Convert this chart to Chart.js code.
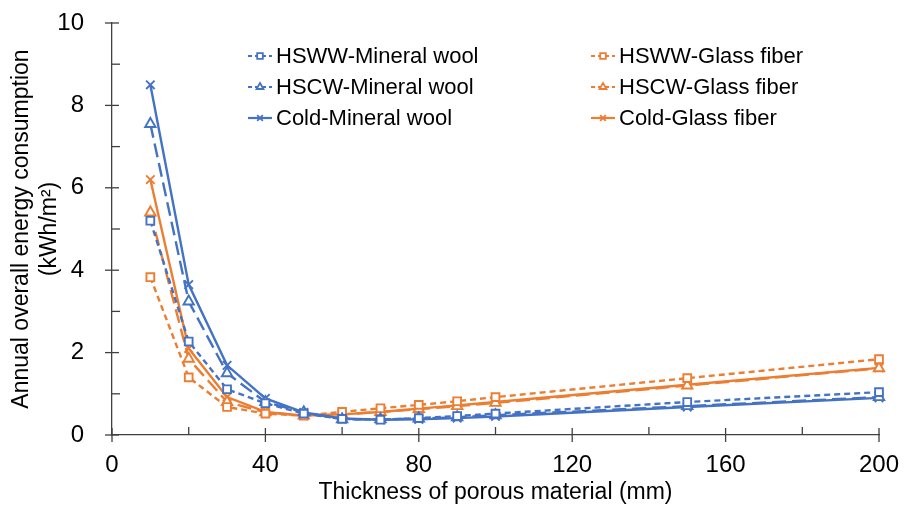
<!DOCTYPE html>
<html>
<head>
<meta charset="utf-8">
<script src="https://cdn.jsdelivr.net/npm/chart.js@4/dist/chart.umd.min.js"></script>
<style>
  html, body { margin: 0; padding: 0; background: #fff; }
  #wrap { width: 904px; height: 510px; position: relative; }
</style>
</head>
<body>
<div id="wrap"><canvas id="grafico"></canvas></div>
<script>
const espessura = [10, 20, 30, 40, 50, 60, 70, 80, 90, 100, 150, 200];

const hswwMineral = [5.2, 2.27, 1.11, 0.77, 0.52, 0.39, 0.37, 0.41, 0.46, 0.52, 0.80, 1.04];
const hscwMineral = [7.55, 3.24, 1.50, 0.80, 0.55, 0.38, 0.38, 0.40, 0.43, 0.48, 0.70, 0.92];
const coldMineral = [8.5, 3.65, 1.69, 0.89, 0.55, 0.40, 0.37, 0.38, 0.41, 0.45, 0.68, 0.90];
const hswwGlass = [3.83, 1.40, 0.68, 0.52, 0.47, 0.56, 0.65, 0.73, 0.82, 0.92, 1.38, 1.84];
const hscwGlass = [5.4, 1.85, 0.80, 0.55, 0.47, 0.50, 0.56, 0.63, 0.70, 0.78, 1.20, 1.62];
const coldGlass = [6.2, 2.10, 0.92, 0.56, 0.47, 0.50, 0.56, 0.64, 0.72, 0.80, 1.22, 1.63];

const xTicks = [0, 40, 80, 120, 160, 200];
const yTicks = [0, 2, 4, 6, 8, 10];

const azul = '#4472C4';
const laranja = '#ED7D31';

function serie(label, valores, cor, dash, estilo, raio) {
  return {
    label: label,
    data: espessura.map((x, i) => ({ x: x, y: valores[i] })),
    borderColor: cor,
    borderWidth: 2.4,
    borderDash: dash,
    pointStyle: estilo,
    pointRadius: raio,
    pointBorderWidth: 1.9,
    pointBorderColor: cor,
    pointBackgroundColor: '#fff',
    fill: false,
    tension: 0,
    clip: false
  };
}

const datasets = [
  serie('HSWW-Mineral wool', hswwMineral, azul, [6, 4], 'rect', 5.5),
  serie('HSCW-Mineral wool', hscwMineral, azul, [14, 6], 'triangle', 6),
  serie('Cold-Mineral wool', coldMineral, azul, [], 'crossRot', 6),
  serie('HSWW-Glass fiber', hswwGlass, laranja, [6, 4], 'rect', 5.5),
  serie('HSCW-Glass fiber', hscwGlass, laranja, [14, 6], 'triangle', 6),
  serie('Cold-Glass fiber', coldGlass, laranja, [], 'crossRot', 6)
];

// tick marks: major ones cross the axis, minor ones sit inside
const marcas = {
  id: 'marcas',
  afterDraw(chart) {
    const ctx = chart.ctx;
    const xs = chart.scales.x, ys = chart.scales.y;
    const a = chart.chartArea;
    ctx.save();
    ctx.strokeStyle = '#404040';
    ctx.lineWidth = 1.3;
    for (let v = 0; v <= 200; v += 20) {
      const px = xs.getPixelForValue(v);
      const major = v % 40 === 0;
      ctx.beginPath();
      ctx.moveTo(px, a.bottom - (major ? 7 : 8));
      ctx.lineTo(px, a.bottom + (major ? 7 : 0));
      ctx.stroke();
    }
    for (let v = 0; v <= 10; v += 1) {
      const py = ys.getPixelForValue(v);
      const major = v % 2 === 0;
      ctx.beginPath();
      ctx.moveTo(a.left - (major ? 7 : 0), py);
      ctx.lineTo(a.left + (major ? 7 : 8), py);
      ctx.stroke();
    }
    ctx.restore();
  }
};

// legend inside the plot, two columns
const legenda = {
  id: 'legenda',
  afterDraw(chart) {
    const ctx = chart.ctx;
    const cols = [248, 591];
    const rows = [56, 87, 118];
    ctx.save();
    chart.data.datasets.forEach((ds, i) => {
      const x0 = cols[Math.floor(i / 3)];
      const y = rows[i % 3];
      ctx.strokeStyle = ds.borderColor;
      ctx.lineWidth = 2.2;
      ctx.setLineDash(ds.borderDash.length ? [4, 3] : []);
      ctx.beginPath();
      ctx.moveTo(x0, y);
      ctx.lineTo(x0 + 24, y);
      ctx.stroke();
      ctx.setLineDash([]);
      ctx.fillStyle = '#fff';
      ctx.lineWidth = 1.8;
      Chart.helpers.drawPoint(ctx, {
        pointStyle: ds.pointStyle, radius: 4, rotation: 0, borderWidth: 1.8
      }, x0 + 12, y);
      ctx.fillStyle = '#000';
      ctx.font = '22px "Liberation Sans", Arial, sans-serif';
      ctx.textBaseline = 'middle';
      ctx.textAlign = 'left';
      ctx.fillText(ds.label, x0 + 28, y + 1);
    });
    ctx.restore();
  }
};

const familia = '"Liberation Sans", Arial, sans-serif';
const fonteTicks = { family: familia, size: 24 };
const fonteTitulo = { family: familia, size: 23, lineHeight: 1.2 };

new Chart(document.getElementById('grafico'), {
  type: 'line',
  data: { datasets: datasets },
  options: {
    responsive: true,
    maintainAspectRatio: false,
    animation: false,
    layout: { padding: { left: 4, top: 23, right: 25, bottom: 0 } },
    plugins: { legend: { display: false }, tooltip: { enabled: false } },
    scales: {
      x: {
        type: 'linear', min: 0, max: 200,
        afterFit: s => { s.height = 75; s.paddingLeft = 0; s.paddingRight = 0; },
        afterBuildTicks: s => { s.ticks = xTicks.map(v => ({ value: v })); },
        grid: { display: false },
        border: { display: true, color: '#404040', width: 1.3 },
        ticks: { font: fonteTicks, color: '#000', padding: 8, maxRotation: 0 },
        title: { display: true, text: 'Thickness of porous material (mm)', font: fonteTitulo, color: '#000', padding: { top: 7 } }
      },
      y: {
        min: 0, max: 10,
        afterFit: s => { s.width = 108; s.paddingTop = 0; s.paddingBottom = 0; },
        afterBuildTicks: s => { s.ticks = yTicks.map(v => ({ value: v })); },
        grid: { display: false },
        border: { display: true, color: '#404040', width: 1.3 },
        ticks: { font: fonteTicks, color: '#000', padding: 20 },
        title: {
          display: true,
          text: ['Annual overall energy consumption', '(kWh/m²)'],
          font: fonteTitulo,
          color: '#000', padding: { bottom: 4 }
        }
      }
    }
  },
  plugins: [marcas, legenda]
});
</script>
</body>
</html>
